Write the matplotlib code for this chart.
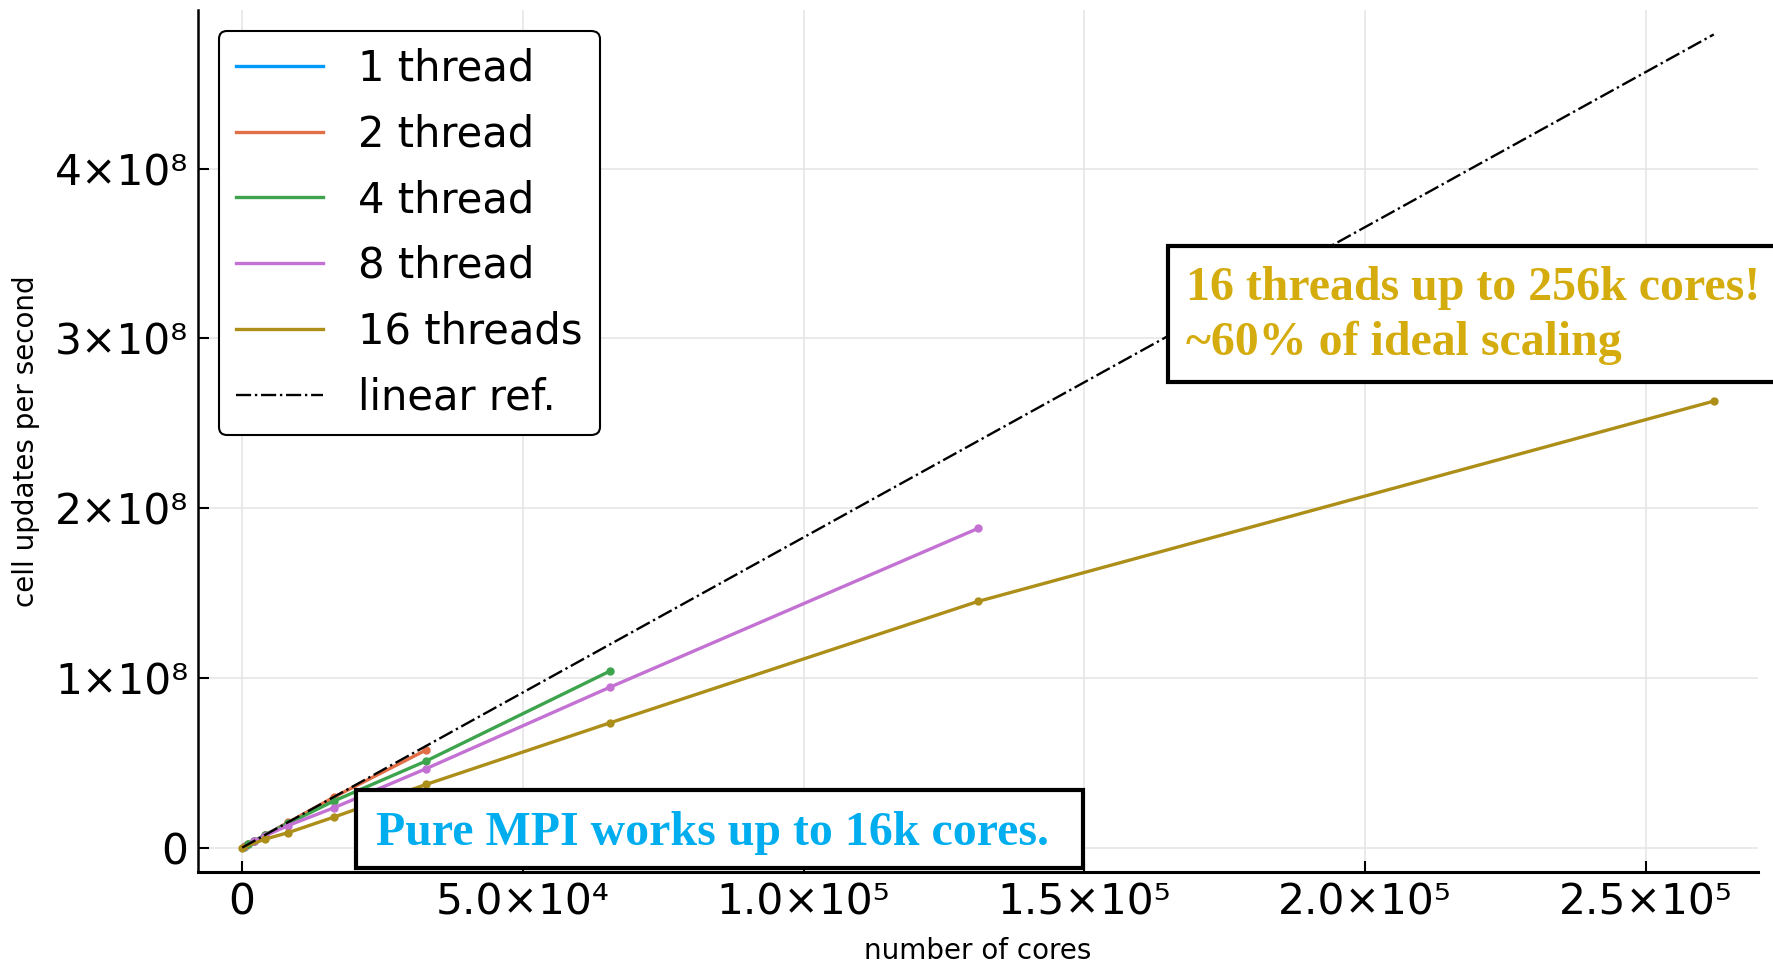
import matplotlib
matplotlib.use('Agg')
import matplotlib.pyplot as plt
from matplotlib.patches import Rectangle

plt.rcParams.update({
    'font.family': ['DejaVu Sans'],
    'figure.dpi': 100,
})

# cores vs. cell updates per second
cores_1 = [256, 512, 1024, 2048, 4096, 8192, 16384]
rate_1 = [4.6e5, 9.3e5, 1.85e6, 3.7e6, 7.4e6, 1.47e7, 2.9e7]

cores_2 = [512, 1024, 2048, 4096, 8192, 16384, 32768]
rate_2 = [9.3e5, 1.86e6, 3.7e6, 7.4e6, 1.48e7, 2.98e7, 5.75e7]

cores_4 = [1024, 2048, 4096, 8192, 16384, 32768, 65536]
rate_4 = [1.85e6, 3.7e6, 7.3e6, 1.42e7, 2.75e7, 5.1e7, 1.04e8]

cores_8 = [2048, 4096, 8192, 16384, 32768, 65536, 131072]
rate_8 = [3.6e6, 7.0e6, 1.3e7, 2.35e7, 4.65e7, 9.45e7, 1.88e8]

cores_16 = [16, 4096, 8192, 16384, 32768, 65536, 131072, 262144]
rate_16 = [3.0e4, 5.0e6, 8.8e6, 1.8e7, 3.72e7, 7.35e7, 1.45e8, 2.63e8]

lin_cores = [1, 262144]
lin_rate = [1.83e3, 4.79e8]

series = [
    (cores_1, rate_1, '#009AFA', '1 thread'),
    (cores_2, rate_2, '#E26F46', '2 thread'),
    (cores_4, rate_4, '#3DA44D', '4 thread'),
    (cores_8, rate_8, '#C371D2', '8 thread'),
    (cores_16, rate_16, '#AC8E18', '16 threads'),
]

xticks = [0, 5e4, 1e5, 1.5e5, 2e5, 2.5e5]
xtick_labels = ['0', '5.0×10⁴', '1.0×10⁵', '1.5×10⁵', '2.0×10⁵', '2.5×10⁵']
yticks = [0, 1e8, 2e8, 3e8, 4e8]
ytick_labels = ['0', '1×10⁸', '2×10⁸', '3×10⁸', '4×10⁸']

fig = plt.figure(figsize=(17.73, 9.65))
ax = fig.add_axes([0.1117, 0.0964, 0.8798, 0.8932])

for x, y, c, lab in series:
    ax.plot(x, y, '-', color=c, lw=2.4, marker='o', markersize=5,
            markeredgecolor=c, label=lab, zorder=3)
ax.plot(lin_cores, lin_rate, '-.', color='black', lw=1.7, label='linear ref.', zorder=4)

ax.margins(x=0.03, y=0.03)
ax.set_xticks(xticks)
ax.set_xticklabels(xtick_labels)
ax.set_yticks(yticks)
ax.set_yticklabels(ytick_labels)
ax.tick_params(direction='in', length=8, width=1.5, labelsize=30.5, pad=7)
ax.grid(True, color='#e6e6e6', lw=1.2)
ax.set_axisbelow(True)
ax.spines['top'].set_visible(False)
ax.spines['right'].set_visible(False)
ax.spines['left'].set_linewidth(1.8)
ax.spines['bottom'].set_linewidth(2.2)

ax.set_xlabel('number of cores', fontsize=20)
ax.xaxis.set_label_coords(0.5, -0.075)
ax.set_ylabel('cell updates per second', fontsize=20)
ax.yaxis.set_label_coords(-0.101, 0.5)

leg = ax.legend(loc='upper left', bbox_to_anchor=(0.0, 1.0), borderaxespad=0.5,
                fontsize=30, handlelength=2.1, handletextpad=0.85,
                labelspacing=0.57, borderpad=0.4, fancybox=True, framealpha=1)
leg.get_frame().set_edgecolor('black')
leg.get_frame().set_linewidth(1.5)
for h in leg.get_lines():
    h.set_marker('')

W, H = 1773, 965

def fx(px):
    return px / W

def fy(py):
    return 1 - py / H

# annotation boxes
fig.add_artist(Rectangle((fx(1168), fy(382)), fx(1800) - fx(1168), fy(246) - fy(382),
                         transform=fig.transFigure, facecolor='white',
                         edgecolor='black', lw=3, zorder=10))
fig.text(fx(1186), fy(300), '16 threads up to 256k cores!', family='Liberation Serif',
         fontweight='bold', fontsize=34.5, color='#D4AC0D', va='baseline', zorder=11)
fig.text(fx(1186), fy(355), '~60% of ideal scaling', family='Liberation Serif',
         fontweight='bold', fontsize=34.5, color='#D4AC0D', va='baseline', zorder=11)

fig.add_artist(Rectangle((fx(356), fy(868)), fx(1083) - fx(356), fy(790) - fy(868),
                         transform=fig.transFigure, facecolor='white',
                         edgecolor='black', lw=3, zorder=10))
fig.text(fx(376), fy(845), 'Pure MPI works up to 16k cores.', family='Liberation Serif',
         fontweight='bold', fontsize=34.5, color='#00AEEF', va='baseline', zorder=11)

fig.savefig('out.png', dpi=100)
